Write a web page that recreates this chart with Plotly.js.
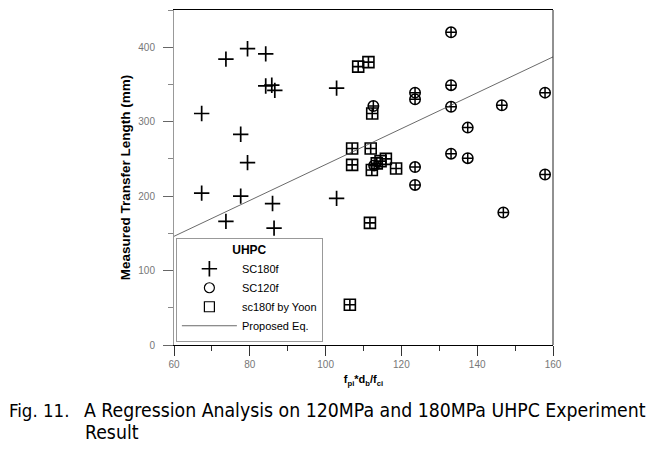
<!DOCTYPE html>
<html>
<head>
<meta charset="utf-8">
<script src="https://cdn.plot.ly/plotly-3.0.1.min.js"></script>
<style>
  body { margin: 0; background: #fff; }
  #chart { width: 661px; height: 454px; }
</style>
</head>
<body>
<div id="chart"></div>
<script>
// values
var sc180fX = [67.3, 73.7, 79.4, 84.2, 84.2, 85.8, 86.6, 102.9, 77.6, 79.4, 67.3, 77.6, 73.7, 86.0, 86.4, 102.9];
var sc180fY = [311, 384, 398, 391, 348, 349, 342, 345, 283, 245, 204, 200, 166, 190, 157, 197];

var sc120fX = [133.1, 123.6, 123.6, 133.1, 133.1, 112.6, 157.9, 146.5, 137.5, 133.1, 137.5, 123.6, 123.6, 157.9, 146.9, 112.8];
var sc120fY = [420, 339, 330, 349, 320, 321, 339, 322, 292, 257, 251, 239, 215, 229, 178, 241];

var yoonX = [108.6, 111.3, 112.3, 107.0, 111.9, 107.0, 112.2, 113.5, 114.5, 115.9, 118.6, 111.7, 106.4];
var yoonY = [374, 380, 311, 264, 264, 242, 235, 244, 247, 250, 237, 164, 54];

// proposed regression line end points
var eqX = [60, 160];
var eqY = [146, 387];

var seriesNames = ['SC180f', 'SC120f', 'sc180f by Yoon', 'Proposed Eq.'];

var baseFont = 'Liberation Sans, Arial, sans-serif';
var captionFont = 'DejaVu Sans Condensed, Liberation Sans, sans-serif';

function dataTrace(x, y, symbol, size, lw) {
    return {
        x: x, y: y, type: 'scatter', mode: 'markers', showlegend: false,
        marker: { symbol: symbol, size: size, color: '#000', line: { color: '#000', width: lw } }
    };
}

// legend-only entries (the legend shows plain symbols)
function legendTrace(name, symbol, size, lw) {
    return {
        x: [null], y: [null], type: 'scatter', mode: 'markers', name: name,
        marker: { symbol: symbol, size: size, color: '#000', line: { color: '#000', width: lw } }
    };
}

var traces = [
    dataTrace(sc180fX, sc180fY, 'cross-thin-open', 11, 1.7),
    dataTrace(sc120fX, sc120fY, 'circle-cross-open', 10.5, 1.5),
    dataTrace(yoonX, yoonY, 'square-cross-open', 11, 1.6),
    legendTrace(seriesNames[0], 'cross-thin-open', 11, 1.7),
    legendTrace(seriesNames[1], 'circle-open', 10, 1.2),
    legendTrace(seriesNames[2], 'square-open', 10, 1.2),
    {
        x: eqX, y: eqY, type: 'scatter', mode: 'lines', name: seriesNames[3],
        line: { color: '#444', width: 0.8 }
    }
];

var layout = {
    width: 661,
    height: 454,
    margin: { l: 174, r: 108, t: 10, b: 109 },
    paper_bgcolor: '#fff',
    plot_bgcolor: '#fff',
    font: { family: baseFont, size: 10, color: '#000' },
    showlegend: true,
    legend: {
        x: 0.005, y: 0.01, xanchor: 'left', yanchor: 'bottom',
        bgcolor: '#fff', bordercolor: '#999', borderwidth: 1,
        font: { family: baseFont, size: 11, color: '#000' },
        itemwidth: 55,
        tracegroupgap: 0,
        title: { text: 'UHPC', side: 'top center', font: { family: baseFont, size: 12, weight: 'bold' } }
    },
    xaxis: {
        range: [60, 160],
        dtick: 20,
        showgrid: false,
        zeroline: false,
        showline: true, linecolor: '#000', linewidth: 1, mirror: true,
        ticks: 'outside', ticklen: 10, tickcolor: '#333',
        minor: { dtick: 10, ticks: 'outside', ticklen: 5, tickcolor: '#333' },
        tickfont: { family: baseFont, size: 10, color: '#777' },
        title: {
            text: 'f<sub>pi</sub>*d<sub>b</sub>/f<sub>ci</sub>',
            font: { family: baseFont, size: 11, weight: 'bold', color: '#000' },
            standoff: 6
        }
    },
    yaxis: {
        range: [0, 450],
        dtick: 100,
        showgrid: false,
        zeroline: false,
        showline: true, linecolor: '#999', linewidth: 1,
        ticks: 'outside', ticklen: 10, tickcolor: '#666',
        minor: { dtick: 50, ticks: 'outside', ticklen: 5, tickcolor: '#888' },
        tickfont: { family: baseFont, size: 10, color: '#777' },
        ticklabelstandoff: 6,
        title: {
            text: 'Measured Transfer Length (mm)',
            font: { family: baseFont, size: 13.5, weight: 'bold', color: '#000' },
            standoff: 4
        }
    },
    shapes: [
        // right edge of the frame
        { type: 'line', xref: 'paper', yref: 'paper', x0: 1, x1: 1, y0: 0, y1: 1, line: { color: '#222', width: 1 } }
    ],
    annotations: [
        {
            xref: 'paper', yref: 'paper', x: -0.4406, y: -0.197, xanchor: 'left', yanchor: 'middle',
            showarrow: false, text: 'Fig. 11.',
            font: { family: captionFont, size: 18.5, color: '#000' }
        },
        {
            xref: 'paper', yref: 'paper', x: 1.2507, y: -0.197, xanchor: 'right', yanchor: 'middle',
            showarrow: false, text: 'A Regression Analysis on 120MPa and 180MPa UHPC Experiment',
            font: { family: captionFont, size: 19.3, color: '#000' }
        },
        {
            xref: 'paper', yref: 'paper', x: -0.24, y: -0.26, xanchor: 'left', yanchor: 'middle',
            showarrow: false, text: 'Result',
            font: { family: captionFont, size: 19.3, color: '#000' }
        }
    ]
};

Plotly.newPlot('chart', traces, layout, { staticPlot: true, displayModeBar: false });
</script>
</body>
</html>
